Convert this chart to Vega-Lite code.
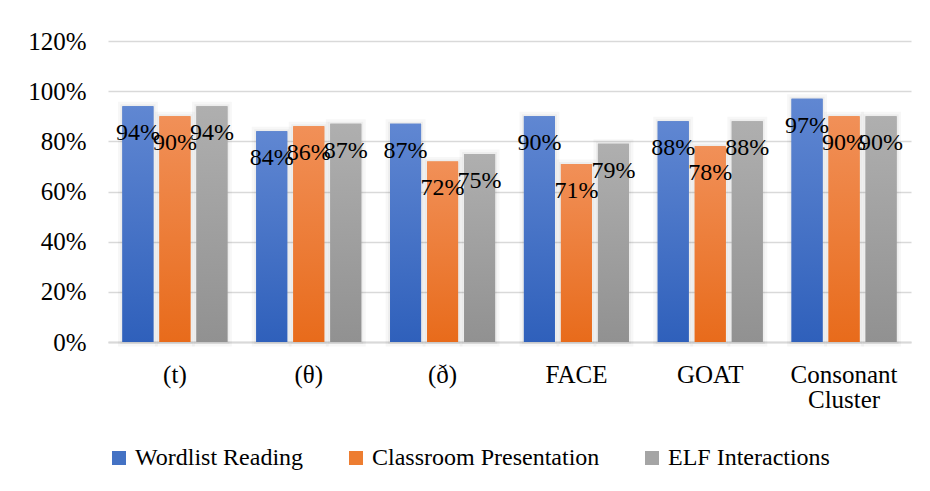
{
  "$schema": "https://vega.github.io/schema/vega-lite/v6.json",
  "width": 803,
  "height": 301,
  "autosize": "none",
  "padding": {"left": 108, "top": 41, "right": 19, "bottom": 149},
  "background": "white",
  "config": {
    "view": {"stroke": null},
    "font": "Times New Roman, Liberation Serif, serif",
    "axis": {"labelFont": "Times New Roman, Liberation Serif, serif", "labelColor": "#000000", "labelFontSize": 25, "titleFont": "Times New Roman, Liberation Serif, serif"},
    "legend": {"labelFont": "Times New Roman, Liberation Serif, serif", "labelColor": "#000000"},
    "text": {"font": "Times New Roman, Liberation Serif, serif"}
  },
  "data": {
    "values": [
      {"category": "(t)", "series": "Wordlist Reading", "value": 0.94},
      {"category": "(t)", "series": "Classroom Presentation", "value": 0.90},
      {"category": "(t)", "series": "ELF Interactions", "value": 0.94},
      {"category": "(θ)", "series": "Wordlist Reading", "value": 0.84},
      {"category": "(θ)", "series": "Classroom Presentation", "value": 0.86},
      {"category": "(θ)", "series": "ELF Interactions", "value": 0.87},
      {"category": "(ð)", "series": "Wordlist Reading", "value": 0.87},
      {"category": "(ð)", "series": "Classroom Presentation", "value": 0.72},
      {"category": "(ð)", "series": "ELF Interactions", "value": 0.75},
      {"category": "FACE", "series": "Wordlist Reading", "value": 0.90},
      {"category": "FACE", "series": "Classroom Presentation", "value": 0.71},
      {"category": "FACE", "series": "ELF Interactions", "value": 0.79},
      {"category": "GOAT", "series": "Wordlist Reading", "value": 0.88},
      {"category": "GOAT", "series": "Classroom Presentation", "value": 0.78},
      {"category": "GOAT", "series": "ELF Interactions", "value": 0.88},
      {"category": "Consonant Cluster", "series": "Wordlist Reading", "value": 0.97},
      {"category": "Consonant Cluster", "series": "Classroom Presentation", "value": 0.90},
      {"category": "Consonant Cluster", "series": "ELF Interactions", "value": 0.90}
    ]
  },
  "encoding": {
    "x": {
      "field": "category",
      "type": "nominal",
      "sort": null,
      "scale": {"paddingInner": 0.215, "paddingOuter": 0.1075},
      "axis": {
        "title": null,
        "labelAngle": 0,
        "ticks": false,
        "domain": true,
        "domainColor": "#d9d9d9",
        "domainWidth": 2,
        "labelPadding": 20,
        "labelLineHeight": 25,
        "labelExpr": "datum.label == 'Consonant Cluster' ? ['Consonant', 'Cluster'] : datum.label"
      }
    },
    "xOffset": {
      "field": "series",
      "type": "nominal",
      "sort": ["Wordlist Reading", "Classroom Presentation", "ELF Interactions"],
      "scale": {"paddingInner": 0.162, "paddingOuter": 0}
    },
    "y": {
      "field": "value",
      "type": "quantitative",
      "scale": {"domain": [0, 1.2], "nice": false},
      "axis": {
        "title": null,
        "values": [0, 0.2, 0.4, 0.6, 0.8, 1.0, 1.2],
        "format": ".0%",
        "ticks": false,
        "domain": false,
        "labelPadding": 22,
        "gridColor": "#d9d9d9",
        "gridWidth": 1.5
      }
    }
  },
  "layer": [
    {
      "mark": {"type": "bar", "fill": "#000000", "fillOpacity": 0, "stroke": "#000000", "strokeOpacity": 0.03, "strokeWidth": 9},
      "encoding": {}
    },
    {
      "mark": {"type": "bar", "fill": "#000000", "fillOpacity": 0, "stroke": "#000000", "strokeOpacity": 0.04, "strokeWidth": 4},
      "encoding": {}
    },
    {
      "mark": {"type": "bar"},
      "encoding": {
        "color": {
          "field": "series",
          "type": "nominal",
          "sort": ["Wordlist Reading", "Classroom Presentation", "ELF Interactions"],
          "scale": {
            "domain": ["Wordlist Reading", "Classroom Presentation", "ELF Interactions"],
            "range": ["#4472c4", "#ed7d31", "#a5a5a5"]
          },
          "legend": {
            "title": null,
            "orient": "none",
            "direction": "horizontal",
            "legendX": -1,
            "legendY": 405,
            "symbolType": "square",
            "symbolSize": 196,
            "symbolStrokeWidth": 0,
            "symbolOpacity": 1,
            "labelFontSize": 24,
            "labelOffset": 4,
            "columnPadding": 40,
            "labelLimit": 400
          }
        }
      }
    },
    {
      "transform": [{"filter": "datum.series == 'Wordlist Reading'"}],
      "mark": {"type": "bar", "fill": {"gradient": "linear", "x1": 0, "y1": 0, "x2": 0, "y2": 1, "stops": [{"offset": 0, "color": "#6087d2"}, {"offset": 1, "color": "#2f60bb"}]}},
      "encoding": {}
    },
    {
      "transform": [{"filter": "datum.series == 'Classroom Presentation'"}],
      "mark": {"type": "bar", "fill": {"gradient": "linear", "x1": 0, "y1": 0, "x2": 0, "y2": 1, "stops": [{"offset": 0, "color": "#f19058"}, {"offset": 1, "color": "#e86b1b"}]}},
      "encoding": {}
    },
    {
      "transform": [{"filter": "datum.series == 'ELF Interactions'"}],
      "mark": {"type": "bar", "fill": {"gradient": "linear", "x1": 0, "y1": 0, "x2": 0, "y2": 1, "stops": [{"offset": 0, "color": "#afafaf"}, {"offset": 1, "color": "#919191"}]}},
      "encoding": {}
    },
    {
      "mark": {"type": "text", "baseline": "alphabetic", "align": "center", "dy": 34, "fontSize": 24, "color": "#000000", "font": "Times New Roman, Liberation Serif, serif"},
      "encoding": {
        "text": {"field": "value", "type": "quantitative", "format": ".0%"}
      }
    }
  ]
}
